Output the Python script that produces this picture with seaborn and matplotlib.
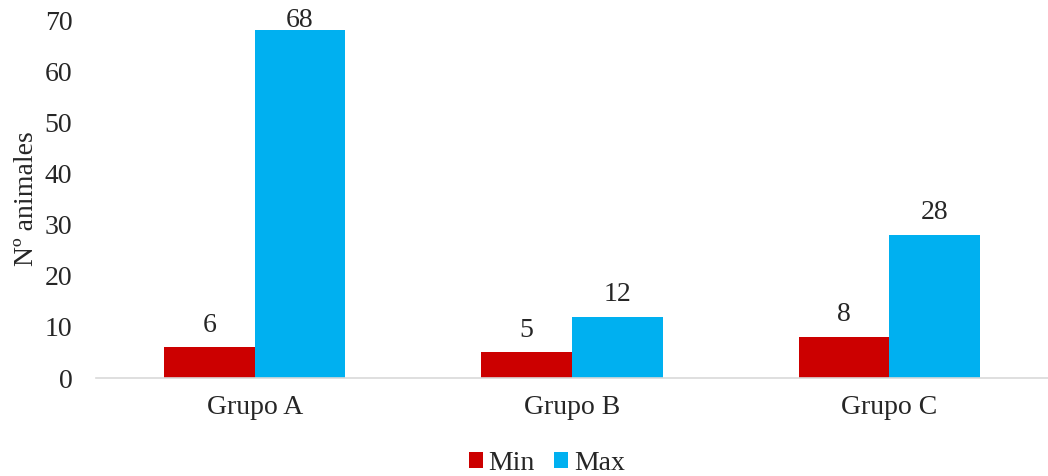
import matplotlib
matplotlib.use("Agg")
import matplotlib.pyplot as plt
import seaborn as sns
import pandas as pd

groups = ["Grupo A", "Grupo B", "Grupo C"]
series = ["Min", "Max"]
min_values = [6, 5, 8]
max_values = [68, 12, 28]
colors = ["#CC0000", "#00B0F0"]

df = pd.DataFrame({
    "grupo": groups * 2,
    "serie": [series[0]] * 3 + [series[1]] * 3,
    "valor": min_values + max_values,
})

sns.set_theme(style="white")
plt.rcParams["font.family"] = ["Liberation Serif", "DejaVu Serif"]
FS = 20

fig = plt.figure(figsize=(10.48, 4.76), dpi=100)
ax = fig.add_axes([96 / 1048, 98 / 476, 1 - 96 / 1048, 358 / 476])

sns.barplot(data=df, x="grupo", y="valor", hue="serie", hue_order=series,
            palette=colors, width=0.572, saturation=1, linewidth=0,
            ax=ax, legend=True)

ax.set_xlim(-0.5, 2.5)
ax.set_ylim(0, 70)

for container in ax.containers:
    labels = ax.bar_label(container, fmt="%d", padding=7, fontsize=FS)
    # labels near the top of the axis sit closer to their bar
    for bar, txt in zip(container, labels):
        if bar.get_height() > 0.9 * ax.get_ylim()[1]:
            txt.xyann = (0, -2)

ax.set_yticks(range(0, 71, 10))
ax.tick_params(axis="both", length=0, labelsize=FS)
ax.tick_params(axis="y", pad=17)
ax.tick_params(axis="x", pad=12)
ax.set_xlabel("")
ax.set_ylabel("Nº animales", fontsize=FS, labelpad=4)
for side in ["left", "right", "top"]:
    ax.spines[side].set_visible(False)
ax.spines["bottom"].set_color("#D9D9D9")
ax.spines["bottom"].set_linewidth(1.2)

handles, labels = ax.get_legend_handles_labels()
ax.get_legend().remove()
fig.legend(handles, labels, loc="center", bbox_to_anchor=(547 / 1048, 13 / 476),
           ncol=2, frameon=False, fontsize=FS, handlelength=0.5, handleheight=0.5,
           handletextpad=0.22, columnspacing=0.7, borderaxespad=0)

fig.savefig("out.png", dpi=100)
